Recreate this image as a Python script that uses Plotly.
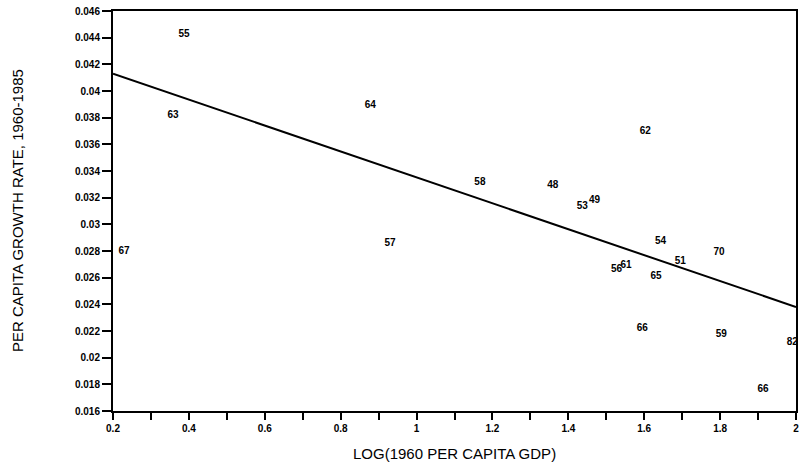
import plotly.graph_objects as go

labels = ["55", "63", "64", "62", "58", "48", "49", "53", "67", "57", "54", "51", "70",
          "56", "61", "65", "66", "59", "82", "66"]
log_gdp = [0.387, 0.358, 0.878, 1.603, 1.167, 1.359, 1.469, 1.437, 0.229, 0.930, 1.643,
           1.695, 1.797, 1.527, 1.552, 1.631, 1.595, 1.803, 1.990, 1.913]
growth = [0.04427, 0.0382, 0.03895, 0.0370, 0.03317, 0.03295, 0.0318, 0.03137, 0.0280,
          0.0286, 0.02873, 0.02725, 0.02788, 0.02665, 0.0269, 0.02612, 0.02222, 0.02177,
          0.02117, 0.01765]

fit_x = [0.2, 2.0]
fit_y = [0.0413, 0.0238]

y_ticks = [0.016, 0.018, 0.02, 0.022, 0.024, 0.026, 0.028, 0.03, 0.032, 0.034, 0.036,
           0.038, 0.04, 0.042, 0.044, 0.046]
y_ticktext = ["0.016", "0.018", "0.02", "0.022", "0.024", "0.026", "0.028", "0.03",
              "0.032", "0.034", "0.036", "0.038", "0.04", "0.042", "0.044", "0.046"]
x_ticks = [0.2, 0.4, 0.6, 0.8, 1.0, 1.2, 1.4, 1.6, 1.8, 2.0]
x_ticktext = ["0.2", "0.4", "0.6", "0.8", "1", "1.2", "1.4", "1.6", "1.8", "2"]

fig = go.Figure()
fig.add_trace(go.Scatter(x=fit_x, y=fit_y, mode="lines",
                         line=dict(color="black", width=2), hoverinfo="skip"))
fig.add_trace(go.Scatter(x=log_gdp, y=growth, mode="text", text=labels,
                         textposition="middle center", cliponaxis=False,
                         textfont=dict(family="Liberation Sans", size=10, color="black",
                                       weight="bold")))

fig.update_layout(
    width=799, height=472,
    margin=dict(l=113, r=3, t=11, b=61, autoexpand=False),
    paper_bgcolor="white", plot_bgcolor="white",
    showlegend=False,
    font=dict(family="Liberation Sans", color="black"),
    annotations=[
        dict(text="LOG(1960 PER CAPITA GDP)", xref="paper", yref="paper",
             x=0.5, y=0, yshift=-42, xanchor="center", yanchor="middle",
             showarrow=False, font=dict(family="Liberation Sans", size=15, color="black")),
        dict(text="PER CAPITA GROWTH RATE, 1960-1985", xref="paper", yref="paper",
             x=0, y=0.5, xshift=-96, xanchor="center", yanchor="middle", textangle=-90,
             showarrow=False, font=dict(family="Liberation Sans", size=15, color="black")),
    ],
)
fig.update_xaxes(
    range=[0.2, 2.0], showgrid=False, zeroline=False, automargin=False,
    showline=True, linecolor="black", linewidth=2, mirror=True,
    ticks="outside", ticklen=7, tickwidth=2, tickcolor="black",
    tickvals=x_ticks, ticktext=x_ticktext, ticklabeloverflow="allow",
    tickfont=dict(family="Liberation Sans", size=10, weight="bold"),
    minor=dict(dtick=0.1, tick0=0.2, ticks="outside", ticklen=7, tickwidth=2, tickcolor="black"),
)
fig.update_yaxes(
    range=[0.016, 0.046], showgrid=False, zeroline=False, automargin=False,
    showline=True, linecolor="black", linewidth=2, mirror=True,
    ticks="outside", ticklen=9, tickwidth=2, tickcolor="black",
    tickvals=y_ticks, ticktext=y_ticktext, ticklabeloverflow="allow",
    tickfont=dict(family="Liberation Sans", size=10, weight="bold"),
)

fig.write_html("out.html", config={"displayModeBar": False},
               post_script="document.body.style.margin='0';")
